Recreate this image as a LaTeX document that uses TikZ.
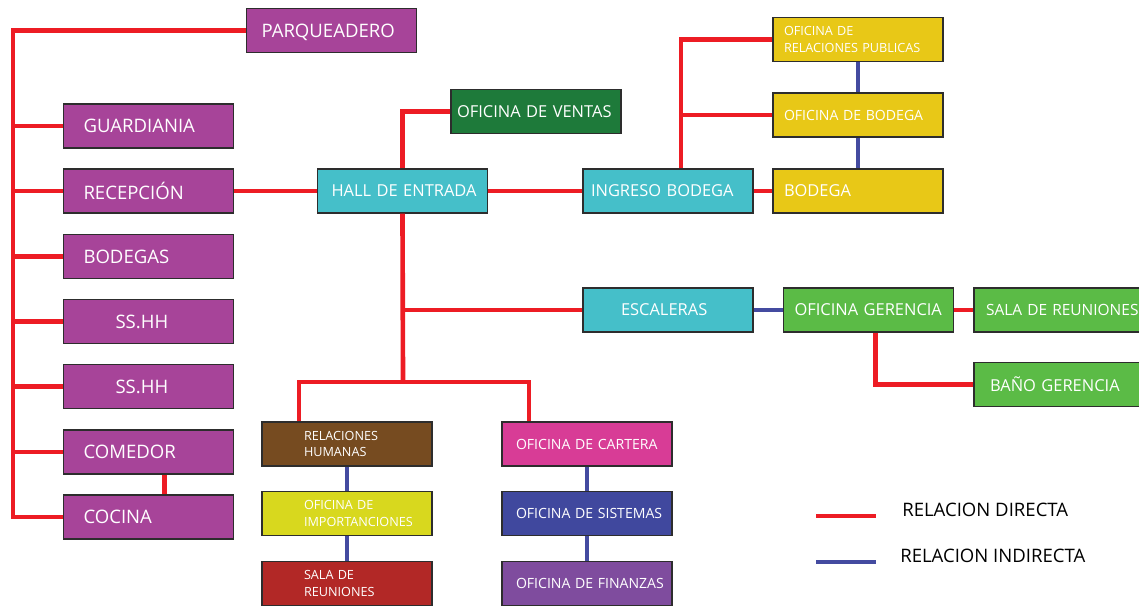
\documentclass[tikz,border=0pt]{standalone}
\usepackage{fontspec}
\setmainfont{Open Sans}
\usepackage{tikz}

\definecolor{rojo}{RGB}{237,28,36}
\definecolor{azul}{RGB}{68,75,160}
\definecolor{borde}{RGB}{45,45,45}
\definecolor{morado}{RGB}{167,68,153}
\definecolor{cian}{RGB}{69,191,201}
\definecolor{verdeosc}{RGB}{30,122,58}
\definecolor{amarillo}{RGB}{232,200,23}
\definecolor{verde}{RGB}{91,187,70}
\definecolor{cafe}{RGB}{118,75,32}
\definecolor{limon}{RGB}{216,216,30}
\definecolor{granate}{RGB}{178,40,38}
\definecolor{rosa}{RGB}{216,60,150}
\definecolor{azulosc}{RGB}{64,72,158}
\definecolor{violeta}{RGB}{127,76,158}

\tikzset{
  caja/.style={draw=borde,line width=0.9pt,minimum height=1.1cm,text=white,align=left,inner ysep=0pt,
    execute at begin node={\hyphenpenalty=10000\exhyphenpenalty=10000}},
  pad/.style={inner xsep=#1*0.025cm,text width=(170-2*#1)*0.025cm},
  directa/.style={draw=rojo,line width=3.3pt},
  indirecta/.style={draw=azul,line width=3.3pt},
  grande/.style={font=\fontsize{13.2}{15}\selectfont},
  medio/.style={font=\fontsize{11.7}{14}\selectfont},
  chico/.style={font=\fontsize{10}{12}\selectfont},
  mini/.style={font=\fontsize{9}{11.5}\selectfont},
}

\begin{document}
\begin{tikzpicture}[x=0.025cm,y=-0.025cm]
\useasboundingbox (0,0) rectangle (1139,606);

% columna izquierda
\node[caja,fill=morado,grande,pad=15,text depth=0pt] at (331.5,30.5) (parq) {PARQUEADERO};
\node[caja,fill=morado,grande,pad=20] at (148.5,126) (guard) {GUARDIANIA};
\node[caja,fill=morado,grande,pad=20] at (148.5,191) (recep) {RECEPCIÓN};
\node[caja,fill=morado,grande,pad=20] at (148.5,256.5) (bodegas) {BODEGAS};
\node[caja,fill=morado,grande,pad=52] at (148.5,321.5) (sshh1) {SS.HH};
\node[caja,fill=morado,grande,pad=52] at (148.5,386.5) (sshh2) {SS.HH};
\node[caja,fill=morado,grande,pad=20] at (148.5,452) (comedor) {COMEDOR};
\node[caja,fill=morado,grande,pad=20] at (148.5,517) (cocina) {COCINA};

% centro
\node[caja,fill=cian,medio,pad=14] at (402.5,191) (hall) {HALL~DE~ENTRADA};
\node[caja,fill=verdeosc,medio,pad=6] at (536,111.5) (ventas) {OFICINA~DE~VENTAS};
\node[caja,fill=cian,medio,pad=8] at (668,191) (ingreso) {INGRESO~BODEGA};
\node[caja,fill=cian,medio,pad=38] at (668,310) (escal) {ESCALERAS};

% bodega
\node[caja,fill=amarillo,mini,pad=11] at (858,39.5) (relpub) {OFICINA~DE\\RELACIONES~PUBLICAS};
\node[caja,fill=amarillo,chico,pad=11] at (858,115) (ofibod) {OFICINA~DE~BODEGA};
\node[caja,fill=amarillo,medio,pad=11] at (858,191) (bodega) {BODEGA};

% gerencia
\node[caja,fill=verde,medio,pad=11] at (868.5,310) (geren) {OFICINA~GERENCIA};
\node[caja,fill=verde,font=\fontsize{11}{13}\selectfont,pad=12,text width=170*0.025cm] at (1071,310) (salareu) {SALA~DE~REUNIONES};
\node[caja,fill=verde,medio,pad=16] at (1059,384.5) (bano) {BAÑO~GERENCIA};

% abajo
\node[caja,fill=cafe,mini,pad=42] at (347,444) (rrhh) {RELACIONES\\HUMANAS};
\node[caja,fill=limon,mini,pad=42] at (347,513.5) (import) {OFICINA~DE\\IMPORTANCIONES};
\node[caja,fill=granate,mini,pad=42] at (347,583.5) (salareu2) {SALA~DE\\REUNIONES};
\node[caja,fill=rosa,chico,pad=14] at (587,444) (cartera) {OFICINA~DE~CARTERA};
\node[caja,fill=azulosc,chico,pad=14] at (587,513.5) (sistemas) {OFICINA~DE~SISTEMAS};
\node[caja,fill=violeta,chico,pad=14] at (587,583.5) (finanzas) {OFICINA~DE~FINANZAS};

\coordinate (lomo) at (13,300);
\coordinate (eje) at (681,100);
\coordinate (nudo) at (403,382);
\coordinate (izq) at (299,382);
\coordinate (der) at (529,382);

% relaciones directas
\draw[directa] (parq.west) -| (lomo) |- (cocina.west);
\foreach \n in {guard,recep,bodegas,sshh1,sshh2,comedor}
  \draw[directa] (\n.west) -- (\n.west -| lomo);
\draw[directa] ([xshift=0.4cm]comedor.south) -- ([xshift=0.4cm]cocina.north);
\draw[directa] (recep) -- (hall);
\draw[directa] (hall.north) |- (ventas.west);
\draw[directa] (hall) -- (ingreso);
\draw[directa] (ingreso) -- (bodega);
\draw[directa] (ingreso.north -| eje) |- (relpub.west);
\draw[directa] (ofibod.west) -- (ofibod.west -| eje);
\draw[directa] (hall.south) -- (nudo);
\draw[directa] (escal.west) -- (escal.west -| nudo);
\draw[directa] (izq |- rrhh.north) |- (der) -- (der |- cartera.north);
\draw[directa] (geren.east) -- (salareu.west);
\draw[directa] ([xshift=0.18cm]geren.south) |- (bano.west);

% relaciones indirectas
\draw[indirecta] (relpub) -- (ofibod);
\draw[indirecta] (ofibod) -- (bodega);
\draw[indirecta] (escal) -- (geren);
\draw[indirecta] (rrhh) -- (import);
\draw[indirecta] (import) -- (salareu2);
\draw[indirecta] (cartera) -- (sistemas);
\draw[indirecta] (sistemas) -- (finanzas);

% leyenda
\draw[directa] (816,516) -- (876,516);
\draw[indirecta] (816,562) -- (876,562);
\node[grande,anchor=west,inner sep=0pt] at (902,510) (ley1) {RELACION DIRECTA};
\node[grande,anchor=west,inner sep=0pt] at (900,556) (ley2) {RELACION INDIRECTA};

\end{tikzpicture}
\end{document}
